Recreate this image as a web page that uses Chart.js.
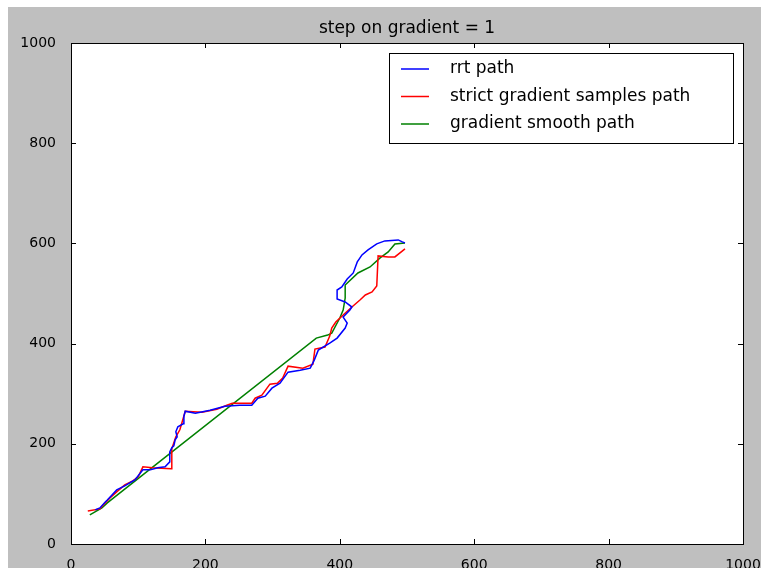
<!DOCTYPE html>
<html>
<head>
<meta charset="utf-8">
<title>step on gradient = 1</title>
<script src="https://cdn.jsdelivr.net/npm/chart.js@4.4.1/dist/chart.umd.min.js"></script>
<style>
  html, body { margin: 0; padding: 0; background: #ffffff; }
  #grafico { display: block; }
</style>
</head>
<body>
<canvas id="grafico" width="761" height="568"></canvas>
<script>
// caminhos no plano 1000x1000
const rrtX = [36, 43, 51, 54, 61, 68, 80, 95, 107, 118, 129, 140, 147, 147, 150, 153, 155, 158, 156, 159, 167, 168, 170, 185, 207, 229, 251, 269, 278, 289, 299, 311, 323, 341, 356, 362, 368, 385, 396, 408, 411, 405, 415, 418, 408, 396, 396, 403, 411, 420, 426, 433, 442, 455, 467, 487, 493, 497];
const rrtY = [68, 72, 84, 88, 98, 108, 116, 128, 148, 148, 152, 154, 164, 184, 192, 196, 208, 214, 224, 234, 240, 255, 265, 261, 267, 275, 277, 277, 291, 295, 311, 321, 343, 347, 351, 367, 387, 401, 411, 431, 441, 453, 467, 473, 483, 489, 507, 513, 529, 541, 563, 577, 587, 599, 605, 607, 603, 601];

const estritoX = [25, 43, 48, 58, 68, 80, 92, 100, 107, 121, 149, 150, 156, 162, 167, 170, 195, 217, 232, 240, 269, 274, 284, 296, 307, 315, 323, 345, 360, 363, 378, 385, 388, 394, 405, 418, 430, 438, 448, 455, 457, 472, 482, 497];
const estritoY = [66, 70, 78, 92, 104, 118, 126, 134, 154, 152, 150, 190, 214, 228, 251, 265, 263, 269, 277, 281, 281, 291, 297, 319, 321, 331, 355, 351, 359, 389, 393, 415, 431, 443, 457, 473, 487, 497, 503, 515, 575, 573, 573, 589];

const suaveX = [28, 46, 54, 365, 382, 388, 400, 405, 408, 408, 427, 445, 460, 472, 482, 497];
const suaveY = [58, 72, 82, 411, 417, 421, 451, 467, 491, 517, 541, 553, 571, 583, 599, 601];

const nomes = ['rrt path', 'strict gradient samples path', 'gradient smooth path'];
const cores = ['#0000ff', '#ff0000', '#008000'];
const marcas = [0, 200, 400, 600, 800, 1000];
const titulo = 'step on gradient = 1';

function pontos(xs, ys) {
    return xs.map((x, i) => ({ x: x, y: ys[i] }));
}

const fonte = "'DejaVu Sans', sans-serif";

// fundo cinza, area branca, moldura e marcas para dentro
const molduraPlugin = {
    id: 'moldura',
    beforeDraw(chart) {
        const ctx = chart.ctx;
        const a = chart.chartArea;
        ctx.save();
        ctx.fillStyle = '#ffffff';
        ctx.fillRect(0, 0, chart.width, chart.height);
        ctx.fillStyle = '#bfbfbf';
        ctx.fillRect(8, 7, chart.width - 8, chart.height - 7);
        ctx.fillStyle = '#ffffff';
        ctx.fillRect(a.left, a.top, a.right - a.left, a.bottom - a.top);
        ctx.restore();
    },
    afterDatasetsDraw(chart) {
        const ctx = chart.ctx;
        const a = chart.chartArea;
        const sx = chart.scales.x, sy = chart.scales.y;
        ctx.save();
        ctx.strokeStyle = '#000000';
        ctx.lineWidth = 1;
        ctx.beginPath();
        marcas.forEach(v => {
            const px = Math.round(sx.getPixelForValue(v)) + 0.5;
            ctx.moveTo(px, a.bottom); ctx.lineTo(px, a.bottom - 5);
            ctx.moveTo(px, a.top); ctx.lineTo(px, a.top + 5);
            const py = Math.round(sy.getPixelForValue(v)) + 0.5;
            ctx.moveTo(a.left, py); ctx.lineTo(a.left + 5, py);
            ctx.moveTo(a.right, py); ctx.lineTo(a.right - 5, py);
        });
        ctx.stroke();
        ctx.strokeRect(Math.round(a.left) + 0.5, Math.round(a.top) + 0.5,
            Math.round(a.right - a.left), Math.round(a.bottom - a.top));

        // titulo
        ctx.fillStyle = '#000000';
        ctx.font = '17px ' + fonte;
        ctx.textAlign = 'center';
        ctx.textBaseline = 'middle';
        ctx.fillText(titulo, (a.left + a.right) / 2, 29);

        // legenda dentro do grafico
        const lx = 389, ly = 53, lw = 344, lh = 90;
        ctx.fillStyle = '#ffffff';
        ctx.fillRect(lx, ly, lw, lh);
        ctx.strokeStyle = '#000000';
        ctx.strokeRect(lx + 0.5, ly + 0.5, lw, lh);
        ctx.font = '17px ' + fonte;
        ctx.textAlign = 'left';
        chart.data.datasets.forEach((ds, i) => {
            const y = 69 + i * 27.5;
            ctx.strokeStyle = ds.borderColor;
            ctx.lineWidth = 1.5;
            ctx.beginPath();
            ctx.moveTo(401, y); ctx.lineTo(429, y);
            ctx.stroke();
            ctx.fillStyle = '#000000';
            ctx.fillText(ds.label, 450, y);
        });
        ctx.restore();
    }
};

const ctx = document.getElementById('grafico').getContext('2d');
const grafico = new Chart(ctx, {
    type: 'scatter',
    data: {
        datasets: [
            { label: nomes[0], data: pontos(rrtX, rrtY), borderColor: cores[0] },
            { label: nomes[1], data: pontos(estritoX, estritoY), borderColor: cores[1] },
            { label: nomes[2], data: pontos(suaveX, suaveY), borderColor: cores[2] }
        ].map(ds => Object.assign(ds, {
            showLine: true,
            pointRadius: 0,
            borderWidth: 1.5,
            tension: 0,
            fill: false
        }))
    },
    options: {
        responsive: false,
        animation: false,
        devicePixelRatio: 1,
        layout: { padding: { left: 8, top: 43, right: 18, bottom: 0 } },
        plugins: {
            legend: { display: false },
            title: { display: false },
            tooltip: { enabled: false }
        },
        scales: {
            x: {
                type: 'linear', min: 0, max: 1000,
                grid: { display: false },
                border: { display: false },
                ticks: { stepSize: 200, color: '#000', padding: 5, font: { family: fonte, size: 14 }, callback: v => String(v) },
                afterFit(s) { s.height = 24; s.paddingLeft = 0; s.paddingRight = 0; }
            },
            y: {
                type: 'linear', min: 0, max: 1000,
                grid: { display: false },
                border: { display: false },
                ticks: { stepSize: 200, color: '#000', padding: 7, font: { family: fonte, size: 14 }, callback: v => String(v) },
                afterFit(s) { s.width = 63; s.paddingTop = 0; s.paddingBottom = 0; }
            }
        }
    },
    plugins: [molduraPlugin]
});
</script>
</body>
</html>
